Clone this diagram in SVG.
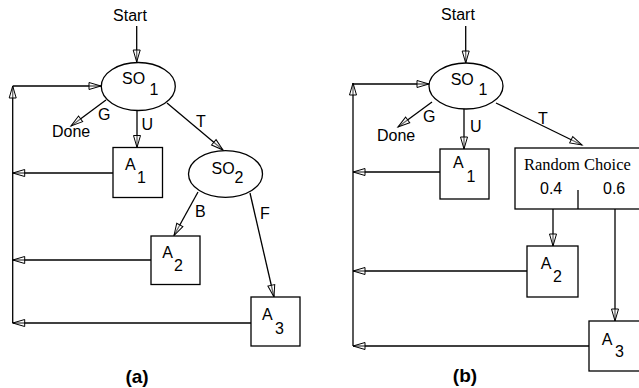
<svg xmlns="http://www.w3.org/2000/svg" width="639" height="388" viewBox="0 0 639 388">
<style>
.s{fill:none;stroke:#000;stroke-width:1.3}
.n{fill:#fff;stroke:#000;stroke-width:1.3}
.c line,.c path{fill:none;stroke:#000;stroke-width:1.3}
text{font-family:"Liberation Sans",Arial,sans-serif;font-size:16px;fill:#000}
.serif{font-family:"Liberation Serif","Times New Roman",serif;font-size:16.5px}
.cap{font-weight:bold;font-size:19px;text-anchor:middle}
</style>
<defs>
<marker id="ah" markerUnits="userSpaceOnUse" markerWidth="14" markerHeight="10" refX="12" refY="3.5" orient="auto" overflow="visible">
<path d="M0,0 L12,3.5 L0,7 Z" fill="#fff" fill-opacity="0.4" stroke="#000" stroke-width="1"/>
</marker>
</defs>

<!-- connectors -->
<g id="connectors" class="c">
<!-- panel a -->
<line x1="136.7" y1="26" x2="136.7" y2="62" marker-end="url(#ah)"/>
<line x1="12.7" y1="323" x2="12.7" y2="86" marker-end="url(#ah)"/>
<line x1="12.7" y1="86" x2="101" y2="86" marker-end="url(#ah)"/>
<line x1="113" y1="173" x2="12.7" y2="173" marker-end="url(#ah)"/>
<line x1="151" y1="260" x2="12.7" y2="260" marker-end="url(#ah)"/>
<line x1="251" y1="323" x2="12.7" y2="323" marker-end="url(#ah)"/>
<line x1="137" y1="110.5" x2="137" y2="147.5" marker-end="url(#ah)"/>
<line x1="106" y1="100" x2="71" y2="126" marker-end="url(#ah)"/>
<line x1="167" y1="103" x2="223" y2="150" marker-end="url(#ah)"/>
<line x1="198" y1="192" x2="174" y2="235.5" marker-end="url(#ah)"/>
<line x1="250" y1="193" x2="274" y2="297" marker-end="url(#ah)"/>
<!-- panel b -->
<line x1="465.7" y1="26" x2="465.7" y2="63" marker-end="url(#ah)"/>
<line x1="353" y1="346" x2="353" y2="83" marker-end="url(#ah)"/>
<line x1="353" y1="84" x2="429" y2="84" marker-end="url(#ah)"/>
<line x1="440" y1="172" x2="353" y2="172" marker-end="url(#ah)"/>
<line x1="527" y1="271" x2="353" y2="271" marker-end="url(#ah)"/>
<line x1="589" y1="346" x2="353" y2="346" marker-end="url(#ah)"/>
<line x1="464" y1="109" x2="464" y2="149" marker-end="url(#ah)"/>
<line x1="432" y1="102" x2="398" y2="127" marker-end="url(#ah)"/>
<line x1="496" y1="103" x2="582" y2="145" marker-end="url(#ah)"/>
<line x1="553" y1="209" x2="553" y2="246" marker-end="url(#ah)"/>
<line x1="615" y1="209" x2="615" y2="321" marker-end="url(#ah)"/>
</g>

<!-- connector labels -->
<g id="labels">
<text x="130" y="21" text-anchor="middle">Start</text>
<text x="98" y="120">G</text>
<text x="52" y="137">Done</text>
<text x="141.5" y="130">U</text>
<text x="196" y="126.5">T</text>
<text x="195" y="216.5">B</text>
<text x="260" y="219">F</text>
<text x="458" y="20" text-anchor="middle">Start</text>
<text x="423" y="122">G</text>
<text x="377" y="140.5">Done</text>
<text x="470" y="132">U</text>
<text x="538" y="124">T</text>
<text class="cap" x="137" y="383">(a)</text>
<text class="cap" x="465" y="382">(b)</text>
</g>

<!-- panel a nodes -->
<g id="a_SO1">
<ellipse class="n" cx="138.3" cy="86.5" rx="37" ry="24"/>
<text x="122" y="84">SO</text><text x="149.5" y="95">1</text>
</g>
<g id="a_A1">
<rect class="n" x="113" y="147.5" width="49.5" height="50"/>
<text x="125" y="170">A</text><text x="137" y="183">1</text>
</g>
<g id="a_SO2">
<ellipse class="n" cx="225.5" cy="174" rx="37" ry="23.3"/>
<text x="211.5" y="173.5">SO</text><text x="234.5" y="183">2</text>
</g>
<g id="a_A2">
<rect class="n" x="151" y="236" width="49" height="48.5"/>
<text x="162.3" y="258.3">A</text><text x="174" y="270.7">2</text>
</g>
<g id="a_A3">
<rect class="n" x="251" y="297" width="49" height="49"/>
<text x="262" y="320">A</text><text x="275" y="334">3</text>
</g>

<!-- panel b nodes -->
<g id="b_SO1">
<ellipse class="n" cx="466" cy="86" rx="37" ry="23"/>
<text x="450.7" y="85">SO</text><text x="478.5" y="95">1</text>
</g>
<g id="b_A1">
<rect class="n" x="440" y="149" width="49" height="50"/>
<text x="453" y="168">A</text><text x="466.5" y="181.5">1</text>
</g>
<g id="b_Random">
<rect class="n" x="515" y="148" width="130" height="61"/>
<line class="s" x1="578" y1="190" x2="578" y2="209"/>
<text class="serif" x="524" y="170">Random Choice</text>
<text x="540" y="194">0.4</text>
<text x="603" y="194">0.6</text>
</g>
<g id="b_A2">
<rect class="n" x="527" y="246" width="51" height="51"/>
<text x="540.7" y="269.3">A</text><text x="553" y="281.7">2</text>
</g>
<g id="b_A3">
<rect class="n" x="589" y="321" width="55" height="50"/>
<text x="601.7" y="345">A</text><text x="615" y="357">3</text>
</g>
</svg>
